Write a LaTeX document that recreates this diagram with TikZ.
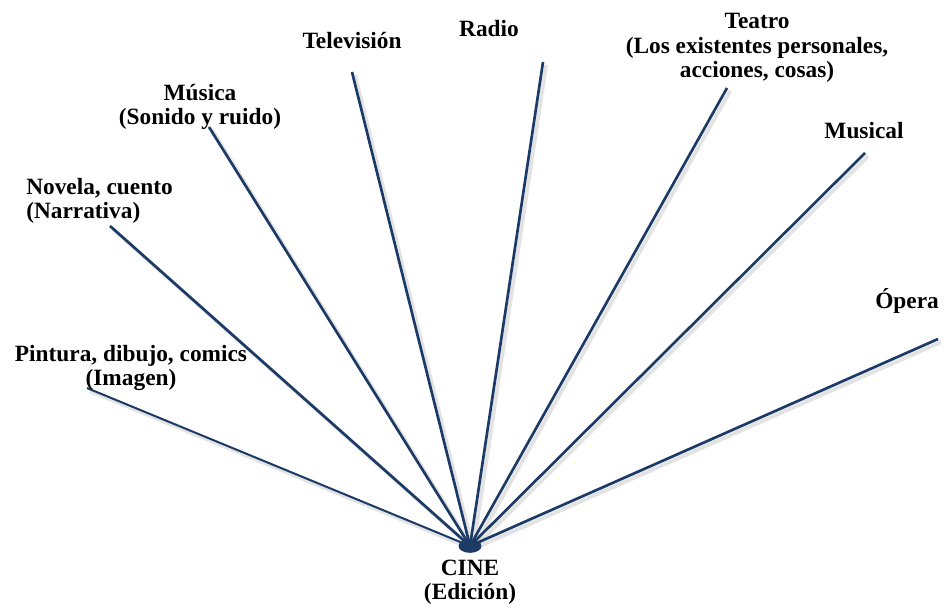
\documentclass[tikz,border=0pt]{standalone}
\usepackage{fontspec}
\setmainfont{Liberation Serif}
\usepackage{tikz}
\usetikzlibrary{shapes.geometric, positioning, calc}
\usepackage{xcolor}
\definecolor{cinenavy}{HTML}{1B3A66}
\definecolor{rayshadow}{HTML}{C8C8C8}

\tikzset{
  artlabel/.style={font=\bfseries\fontsize{17.5}{18.5}\selectfont, align=center, inner sep=0pt},
  ray/.style={draw=cinenavy, line width=2pt},
  rayshade/.style={draw=rayshadow, line width=3pt, opacity=0.5}
}

\begin{document}
\begin{tikzpicture}[x=0.75pt, y=-0.75pt]
\useasboundingbox (0,0) rectangle (944,607);

% centro
\node[ellipse, fill=cinenavy, minimum width=17pt, minimum height=10pt, inner sep=0pt] (cine) at (470,546) {};
\node[artlabel, below=5pt of cine] (cinelbl) {CINE\\(Edición)};

% extremos de los rayos
\coordinate (pintura) at (87,388);
\coordinate (novela) at (110,226);
\coordinate (musica) at (209,127);
\coordinate (tele) at (352,72);
\coordinate (radio) at (543,62);
\coordinate (teatro) at (727,88);
\coordinate (musical) at (865,153);
\coordinate (opera) at (938,339);

% sombras
\foreach \e in {pintura, novela, musica, tele, radio, teatro, musical, opera}
  \draw[rayshade] ($(cine.center)+(3,3)$) -- ($(\e)+(3,3)$);

% rayos
\draw[ray, line width=1.5pt] (cine.center) -- (pintura);
\foreach \e in {novela, musica, tele, radio, teatro, musical, opera}
  \draw[ray] (cine.center) -- (\e);
\node[ellipse, fill=cinenavy, minimum width=17pt, minimum height=10pt, inner sep=0pt] at (cine) {};

% etiquetas
\node[artlabel] (pinturalbl) at (131,368) {Pintura, dibujo, comics\\(Imagen)};
\node[artlabel, align=left, anchor=west] (novelalbl) at (26,201) {Novela, cuento\\(Narrativa)};
\node[artlabel] (musicalbl) at (200,107) {Música\\(Sonido y ruido)};
\node[artlabel] (telelbl) at (352,41) {Televisión};
\node[artlabel] (radiolbl) at (489,29) {Radio};
\node[artlabel] (teatrolbl) at (757,48) {Teatro\\(Los existentes personales,\\acciones, cosas)};
\node[artlabel] (musicallbl) at (864,131) {Musical};
\node[artlabel] (operalbl) at (907,301) {Ópera};
\end{tikzpicture}
\end{document}
